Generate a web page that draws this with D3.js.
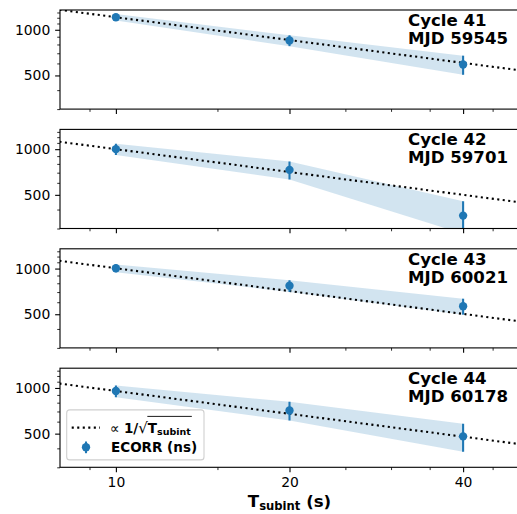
<!DOCTYPE html>
<html><head><meta charset="utf-8">
<script src="https://cdn.jsdelivr.net/npm/d3@7"></script>
<style>
body{margin:0;background:#fff}
svg{display:block}
text{font-family:"DejaVu Sans",sans-serif}
</style>
</head><body>
<svg id="chart" width="517" height="514"></svg>
<script>
// ---- data ----
const tsubint = [10, 20, 40];
const cycleLabels = ["Cycle 41", "Cycle 42", "Cycle 43", "Cycle 44"];
const mjdLabels = ["MJD 59545", "MJD 59701", "MJD 60021", "MJD 60178"];
const ecorr41 = [1210, 850, 590];
const err41 = [60, 70, 85];
const ecorr42 = [1000, 730, 365];
const err42 = [85, 100, 88];
const ecorr43 = [1005, 770, 565];
const err43 = [60, 68, 68];
const ecorr44 = [955, 710, 480];
const err44 = [85, 100, 100];
const xMajorTicks = [10, 20, 40];
const xMinorTicks = [9, 15, 25, 30, 35, 45];
const yMajorTicks = [500, 1000];
const yMinorTicks = [300, 400, 600, 700, 800, 900, 1100, 1200, 1300];
const legendModelLabel = "∝ 1/√T";
const legendDataLabel = "ECORR (ns)";

const panels = [
  {cycle: cycleLabels[0], mjd: mjdLabels[0], vals: ecorr41, errs: err41},
  {cycle: cycleLabels[1], mjd: mjdLabels[1], vals: ecorr42, errs: err42},
  {cycle: cycleLabels[2], mjd: mjdLabels[2], vals: ecorr43, errs: err43},
  {cycle: cycleLabels[3], mjd: mjdLabels[3], vals: ecorr44, errs: err44}
];

// ---- layout ----
const C0 = "#1f77b4";
const left = 60, right = 519;
const top0 = 10, ph = 99.1, step = 119.4;
const majorLen = 4.86, minorLen = 2.78, pad = 4.86;
const tickFont = 13.9;

const svg = d3.select("#chart");
const x = d3.scaleLog().domain([8, 50]).range([left, right]);
const y = d3.scaleLog().domain([300, 1350]).range([ph, 0]);

panels.forEach((p, i) => {
  const g = svg.append("g").attr("transform", `translate(0,${top0 + i * step})`);
  const clipId = "clip" + i;
  g.append("clipPath").attr("id", clipId)
    .append("rect").attr("x", left).attr("y", 0).attr("width", right - left).attr("height", ph);

  const pts = tsubint.map((t, k) => ({t, v: p.vals[k], e: p.errs[k]}));
  const plot = g.append("g").attr("clip-path", `url(#${clipId})`);

  // band
  plot.append("path")
    .datum(pts)
    .attr("d", d3.area().x(d => x(d.t)).y0(d => y(d.v - d.e)).y1(d => y(d.v + d.e)))
    .attr("fill", C0).attr("fill-opacity", 0.2).attr("stroke", "none");

  // model line ∝ 1/sqrt(T), normalised at first point
  const model = [7, 60].map(t => ({t, v: p.vals[0] * Math.sqrt(tsubint[0] / t)}));
  plot.append("path")
    .datum(model)
    .attr("d", d3.line().x(d => x(d.t)).y(d => y(d.v)))
    .attr("fill", "none").attr("stroke", "#000").attr("stroke-width", 2.08)
    .attr("stroke-dasharray", "2.08,3.44");

  // error bars
  plot.selectAll("line.eb").data(pts).enter().append("line")
    .attr("x1", d => x(d.t)).attr("x2", d => x(d.t))
    .attr("y1", d => y(d.v - d.e)).attr("y2", d => y(d.v + d.e))
    .attr("stroke", C0).attr("stroke-width", 2.08);
  plot.selectAll("circle").data(pts).enter().append("circle")
    .attr("cx", d => x(d.t)).attr("cy", d => y(d.v)).attr("r", 4.17)
    .attr("fill", C0);

  // y axis
  const yAx = g.append("g").attr("transform", `translate(${left},0)`)
    .call(d3.axisLeft(y).tickValues(yMajorTicks).tickFormat(d3.format("d"))
      .tickSize(majorLen).tickPadding(pad).tickSizeOuter(0));
  yAx.select(".domain").remove();
  yAx.selectAll("text").attr("font-size", tickFont).attr("fill", "#000").style("font-family", "DejaVu Sans");
  yAx.selectAll("line").attr("stroke", "#000").attr("stroke-width", 1.11);
  const yMin = g.append("g").attr("transform", `translate(${left},0)`)
    .call(d3.axisLeft(y).tickValues(yMinorTicks).tickFormat("").tickSize(minorLen).tickSizeOuter(0));
  yMin.select(".domain").remove();
  yMin.selectAll("line").attr("stroke", "#000").attr("stroke-width", 0.83);

  // x axis
  const xAx = g.append("g").attr("transform", `translate(0,${ph})`)
    .call(d3.axisBottom(x).tickValues(xMajorTicks)
      .tickFormat(i === panels.length - 1 ? d3.format("d") : "")
      .tickSize(majorLen).tickPadding(pad).tickSizeOuter(0));
  xAx.select(".domain").remove();
  xAx.selectAll("text").attr("font-size", tickFont).attr("fill", "#000").style("font-family", "DejaVu Sans");
  xAx.selectAll("line").attr("stroke", "#000").attr("stroke-width", 1.11);
  const xMin = g.append("g").attr("transform", `translate(0,${ph})`)
    .call(d3.axisBottom(x).tickValues(xMinorTicks).tickFormat("").tickSize(minorLen).tickSizeOuter(0));
  xMin.select(".domain").remove();
  xMin.selectAll("line").attr("stroke", "#000").attr("stroke-width", 0.83);

  // frame
  g.append("rect").attr("x", left).attr("y", 0).attr("width", right - left).attr("height", ph)
    .attr("fill", "none").attr("stroke", "#000").attr("stroke-width", 1.11);

  // annotation
  const ann = g.append("text").attr("font-weight", "bold").attr("font-size", 16.6).attr("fill", "#000");
  ann.append("tspan").attr("x", 408).attr("y", 15.8).text(p.cycle);
  ann.append("tspan").attr("x", 408).attr("y", 33.8).text(p.mjd);

  // legend in last panel
  if (i === panels.length - 1) {
    const lg = g.append("g");
    lg.append("rect").attr("x", 66.7).attr("y", 41.7).attr("width", 137.3).attr("height", 50)
      .attr("rx", 3).attr("fill", "#fff").attr("fill-opacity", 0.8)
      .attr("stroke", "#d0d0d0").attr("stroke-width", 1.1);
    lg.append("line").attr("x1", 71.7).attr("x2", 100).attr("y1", 59.4).attr("y2", 59.4)
      .attr("stroke", "#000").attr("stroke-width", 2.08).attr("stroke-dasharray", "2.08,3.44");
    lg.append("line").attr("x1", 86).attr("x2", 86).attr("y1", 73.3).attr("y2", 85)
      .attr("stroke", C0).attr("stroke-width", 2.08);
    lg.append("circle").attr("cx", 86).attr("cy", 79).attr("r", 4.17).attr("fill", C0);

    const lt = lg.append("text").attr("x", 110).attr("y", 64.4).attr("font-size", 13.5).attr("fill", "#000");
    const parts = legendModelLabel.split("√");
    lt.append("tspan").attr("font-weight", "normal").text(parts[0].slice(0, 2));
    lt.append("tspan").attr("font-weight", "bold").text(parts[0].slice(2));
    lt.append("tspan").attr("font-weight", "normal").attr("font-size", 15).text("√");
    lt.append("tspan").attr("font-weight", "bold").text(parts[1]);
    lt.append("tspan").attr("font-weight", "bold").attr("font-size", 9.5).attr("dy", 2.6).text("subint");
    const node = lt.node();
    const n = node.getNumberOfChars();
    const sqrtIdx = legendModelLabel.indexOf("√");
    const x0 = node.getEndPositionOfChar(sqrtIdx).x - 0.5;
    const x1 = node.getEndPositionOfChar(n - 1).x + 1;
    lg.append("line").attr("x1", x0).attr("x2", x1).attr("y1", 48.2).attr("y2", 48.2)
      .attr("stroke", "#000").attr("stroke-width", 0.9);

    lg.append("text").attr("x", 111).attr("y", 84).attr("font-size", 13.5)
      .attr("font-weight", "bold").attr("fill", "#000").text(legendDataLabel);
  }
});

// x label
const xl = svg.append("text").attr("x", (left + right) / 2).attr("y", 507).attr("text-anchor", "middle")
  .attr("font-size", 16.6).attr("font-weight", "bold").attr("fill", "#000");
xl.append("tspan").text("T");
xl.append("tspan").attr("font-size", 11.6).attr("dy", 3).text("subint");
xl.append("tspan").attr("dy", -3).text(" (s)");
</script>
</body></html>
